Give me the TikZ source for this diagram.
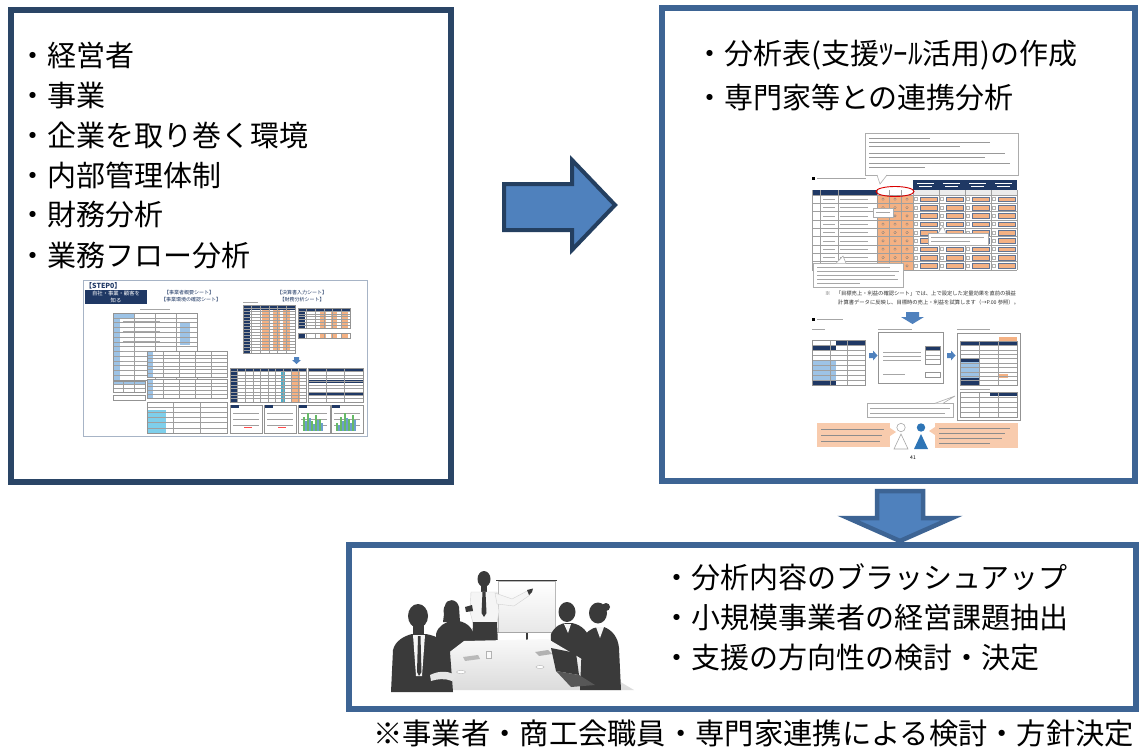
\documentclass[tikz,border=0pt]{standalone}
\usepackage{fontspec}
\setmainfont{Noto Sans CJK JP}
\usetikzlibrary{calc}

\definecolor{navyA}{HTML}{2A4566}
\definecolor{steelB}{HTML}{3D6494}
\definecolor{arrowfill}{HTML}{4F81BD}
\definecolor{arrowedge}{HTML}{243F60}
\definecolor{darknavy}{HTML}{1F3864}
\definecolor{sheetorange}{HTML}{F4B183}
\definecolor{paleorange}{HTML}{F8CBAD}
\definecolor{paleblue}{HTML}{9DC3E6}
\definecolor{tealcol}{HTML}{4BACC6}
\definecolor{silh}{HTML}{3A3A3A}
\definecolor{rulegray}{HTML}{A7B4C6}
\definecolor{iconblue}{HTML}{2E75B6}

% grid of a small spreadsheet: x0 y0 x1 y1 rows cols
\newcommand\sheetgrid[6]{%
  \foreach \k in {1,...,#5}{\draw[gridln] (#1,{#2+\k*(#4-#2)/#5}) -- (#3,{#2+\k*(#4-#2)/#5});}%
  \foreach \k in {1,...,#6}{\draw[gridln] ({#1+\k*(#3-#1)/#6},#2) -- ({#1+\k*(#3-#1)/#6},#4);}%
  \draw[gridbox] (#1,#2) rectangle (#3,#4);%
}

\begin{document}
\begin{tikzpicture}[x=1pt,y=-1pt,
  panelA/.style={draw=navyA, line width=6pt},
  panelB/.style={draw=steelB, line width=6pt},
  bigtxt/.style={font=\fontsize{29}{29}\selectfont, inner sep=0pt, anchor=west, text=black},
  tinyhead/.style={font=\fontsize{5}{5}\selectfont, inner sep=0pt, text=darknavy},
  gridln/.style={draw=gray!75, line width=0.35pt},
  gridbox/.style={draw=gray!85, line width=0.5pt},
  txtln/.style={draw=gray!70, line width=1pt},
  callout/.style={draw=gray!65, fill=white, line width=0.6pt},
  person/.style={fill=silh},
  shirt/.style={fill=gray!8},
  bluearrow/.style={fill=arrowfill}
]
\useasboundingbox (0,0) rectangle (1139,749);
\fill[white] (0,0) rectangle (1139,749);

% ---------- panels ----------
\draw[panelA] (11,10) rectangle (451,481.5);
\draw[panelB] (662,8) rectangle (1135,481);
\draw[panelB] (349,545) rectangle (1136,709);

% ---------- block arrows ----------
\filldraw[fill=arrowfill, draw=arrowedge, line width=4pt, line join=miter]
  (504,184) -- (572,184) -- (572,160) -- (615,205) -- (572,250) -- (572,230) -- (504,230) -- cycle;
\filldraw[fill=arrowfill, draw=steelB, line width=4.5pt, line join=miter]
  (877,491) -- (923,491) -- (923,518) -- (952,518) -- (900,541) -- (848,518) -- (877,518) -- cycle;

% ---------- texts ----------
\node[bigtxt] (a1) at (18,55)  {・経営者};
\node[bigtxt] (a2) at (18,96)  {・事業};
\node[bigtxt] (a3) at (18,135) {・企業を取り巻く環境};
\node[bigtxt] (a4) at (18,175) {・内部管理体制};
\node[bigtxt] (a5) at (18,215) {・財務分析};
\node[bigtxt] (a6) at (18,256) {・業務フロー分析};

\node[bigtxt] (b1) at (695,55) {・分析表(支援ﾂｰﾙ活用)の作成};
\node[bigtxt] (b2) at (695,97) {・専門家等との連携分析};

\node[bigtxt] (c1) at (662,577) {・分析内容のブラッシュアップ};
\node[bigtxt] (c2) at (662,617) {・小規模事業者の経営課題抽出};
\node[bigtxt] (c3) at (662,657) {・支援の方向性の検討・決定};

\node[bigtxt, font=\fontsize{29.3}{29.3}\selectfont] (note) at (373,733) {※事業者・商工会職員・専門家連携による検討・方針決定};

% ---------- STEP0 sheet thumbnail ----------
\draw[draw=rulegray, fill=white, line width=0.8pt] (83,280) rectangle (367,436);
\node[font=\bfseries\fontsize{7}{7}\selectfont, text=darknavy, anchor=west, inner sep=0pt] (stepzero) at (85,285.5) {【STEP0】};
\fill[darknavy] (85,290) rectangle (147,304);
\node[font=\fontsize{5.3}{6.2}\selectfont, text=white, align=center, inner sep=0pt] (knowself) at (116,297) {自社・事業・顧客を\\知る};
\node[tinyhead] (sheetA) at (189,292.5) {【事業者概要シート】};
\node[tinyhead] (sheetB) at (191,299.5) {【事業環境の確認シート】};
\node[tinyhead] (sheetC) at (302,292.5) {【決算書入力シート】};
\node[tinyhead] (sheetD) at (302,299.5) {【財務分析シート】};

% left group of sheets
\draw[txtln, line width=0.8pt] (140,309) -- (170,309);
\fill[white] (113,313) rectangle (197,380);
\fill[paleblue] (113,318) rectangle (120,380);
\fill[paleblue] (113,313) rectangle (135,318);
\fill[paleblue] (180,322) rectangle (190,345);
\sheetgrid{113}{313}{197}{380}{14}{4}
\foreach \ly in {321,331,341,351,361}{\draw[txtln, line width=0.5pt] (123,\ly) -- (160,\ly);}
\fill[white] (147,351) rectangle (227,377);
\fill[paleblue] (147,351) rectangle (153,377);
\sheetgrid{147}{351}{227}{377}{7}{5}
\fill[white] (147,379) rectangle (227,398);
\fill[paleblue] (147,379) rectangle (153,398);
\sheetgrid{147}{379}{227}{398}{5}{5}
\fill[white] (147,402) rectangle (227,433);
\fill[paleblue!80!cyan] (147,410) rectangle (166,433);
\sheetgrid{147}{402}{227}{433}{6}{3}
\fill[paleblue] (113,381) rectangle (145,384);
\sheetgrid{113}{381}{145}{392}{3}{3}
\sheetgrid{113}{395}{145}{400}{1}{1}

% right group of sheets
\draw[txtln, line width=0.8pt] (243,302) -- (258,302);
\fill[white] (243,305) rectangle (295,353);
\fill[darknavy] (243,305) rectangle (295,310);
\fill[darknavy] (243,310) rectangle (250,353);
\foreach \cx in {262,273,283}{\fill[sheetorange] (\cx,310) rectangle (\cx+7,350);}
\sheetgrid{243}{305}{295}{353}{16}{6}
\fill[white] (298,308) rectangle (350,328);
\fill[darknavy] (298,308) rectangle (350,312);
\fill[darknavy] (298,312) rectangle (305,328);
\foreach \cx in {320,331,342}{\fill[sheetorange] (\cx,312) rectangle (\cx+6,328);}
\sheetgrid{298}{308}{350}{328}{7}{6}
\fill[white] (298,333) rectangle (350,338);
\fill[darknavy] (298,333) rectangle (305,338);
\foreach \cx in {320,331,342}{\fill[sheetorange] (\cx,333) rectangle (\cx+6,338);}
\sheetgrid{298}{333}{350}{338}{1}{6}
\fill[bluearrow] (294,357) -- (299,357) -- (299,360) -- (301,360) -- (296.5,364) -- (292,360) -- (294,360) -- cycle;
\fill[white] (230,368) rectangle (306,402);
\fill[darknavy] (230,368) rectangle (306,371);
\fill[darknavy] (230,371) rectangle (237,402);
\fill[tealcol] (281,371) rectangle (285,402);
\fill[sheetorange] (292,371) rectangle (300,402);
\sheetgrid{230}{368}{306}{402}{10}{10}
\fill[white] (308,368) rectangle (363,402);
\foreach \yy in {368,380,392}{\fill[darknavy] (308,\yy) rectangle (363,\yy+3);}
\sheetgrid{308}{368}{363}{402}{10}{3}
\foreach \bx in {230,264,298,331}{
  \draw[gridbox, fill=white] (\bx,405) rectangle (\bx+32,433);
  \fill[darknavy] (\bx+1,405) rectangle (\bx+9,408);
  \foreach \ly in {413,419,425}{\draw[gridln] (\bx+3,\ly) -- (\bx+29,\ly);}
}
\foreach \bx/\bh in {303/14,307/18,311/10,315/16,319/12,336/8,340/14,344/18,348/12,352/16}{
  \fill[green!55!black!60] (\bx,431) rectangle (\bx+2,431-\bh);
  \fill[iconblue!70] (\bx+2,431) rectangle (\bx+3.5,431-\bh*0.7);
}
\fill[red!70] (244,427) rectangle (252,428);
\fill[red!70] (278,427) rectangle (286,428);

% ---------- analysis page thumbnail ----------
% top note
\draw[callout] (865,133) rectangle (1018,175);
\fill[white] (877,174) -- (887,174) -- (880,184) -- cycle;
\draw[gray!65, line width=0.6pt] (877,175) -- (880,184) -- (887,175);
\foreach \ly/\lx in {138/930,142/990,146/960,153/1005,157/985,163/1010,167/925}{\draw[txtln, draw=gray!80, line width=0.9pt] (869,\ly) -- (\lx,\ly);}
\fill[black] (812,176.5) rectangle (815,179.5);
\draw[txtln, line width=0.9pt] (817,178) -- (866,178);

% evaluation table
\foreach \gx in {913,939,965,991}{
  \fill[darknavy] (\gx,180) rectangle (\gx+25.5,190);
  \draw[white, line width=0.6pt] (\gx+4,183.5) -- (\gx+21,183.5);
  \draw[white, line width=0.6pt] (\gx+6,186.5) -- (\gx+19,186.5);
}
\fill[darknavy] (812,190) rectangle (877,195);
\fill[gray!15] (913,190) rectangle (1017,195);
\fill[white] (812,195) rectangle (1017,270);
\fill[sheetorange] (877,195) rectangle (913,270);
\foreach \r in {0,...,8}{
  \pgfmathsetmacro\yy{195+\r*8.33}
  \foreach \gx in {913,939,965,991}{
    \draw[gray!60, fill=white, line width=0.3pt] (\gx+1.5,\yy+2.5) rectangle (\gx+4.5,\yy+5.5);
    \draw[darknavy!70, fill=sheetorange, line width=0.35pt] (\gx+7,\yy+1.8) rectangle (\gx+24,\yy+6.5);
  }
  \foreach \cx in {883,895,907}{\draw[black!50, line width=0.3pt] (\cx,\yy+4.2) circle [radius=1.3];}
  \draw[txtln, line width=0.6pt] (840,\yy+4.2) -- (868,\yy+4.2);
  \draw[txtln, line width=0.6pt] (823,\yy+4.2) -- (835,\yy+4.2);
}
\foreach \r in {0,...,9}{\draw[gridln] (812,{195+\r*8.33}) -- (1017,{195+\r*8.33});}
\foreach \vx in {812,820,838,877,889,901,913,939,965,991,1017}{\draw[gridln] (\vx,190) -- (\vx,270);}
\draw[red!85!black, line width=0.9pt] (895,191.5) ellipse [x radius=19, y radius=5];
\draw[callout] (873,208) rectangle (893,217);
\draw[txtln, line width=0.6pt] (876,212.5) -- (890,212.5);
\draw[callout] (928,233) rectangle (988,245);
\draw[gray!65, fill=white, line width=0.6pt] (938,233.3) -- (943,226) -- (946,233.3);
\draw[txtln, line width=0.6pt] (931,237) -- (984,237);
\draw[txtln, line width=0.6pt] (931,241) -- (970,241);
\draw[callout] (813,263) rectangle (903,287);
\draw[gray!65, fill=white, line width=0.6pt] (836,263.3) -- (843,256) -- (846,263.3);
\foreach \ly/\lx in {267/890,271/899,275/895,279/898,283/860}{\draw[txtln, line width=0.7pt] (817,\ly) -- (\lx,\ly);}

% remark below the table
\node[font=\fontsize{5.3}{8.5}\selectfont, align=left, anchor=north west, inner sep=0pt, text=black!80] (remark) at (825,291)
  {※　「目標売上・利益の確認シート」では、上で設定した定量効果を直前の損益\\
   \hspace*{13pt}計算書データに反映し、目標時の売上・利益を試算します（→P.00 参照）。};

% target profit section
\fill[bluearrow] (906,312) -- (919,312) -- (919,317) -- (924,317) -- (912.5,324) -- (901,317) -- (906,317) -- cycle;
\fill[black] (812,317.5) rectangle (815,320.5);
\draw[txtln, line width=0.9pt] (817,319) -- (843,319);
\draw[txtln, line width=0.8pt] (812,329) -- (825,329);
\draw[txtln, line width=0.8pt] (878,329) -- (912,329);
\draw[txtln, line width=0.8pt] (957,329) -- (990,329);
% table 1
\fill[white] (812,340) rectangle (865,385);
\fill[darknavy] (836,340) rectangle (865,345);
\fill[darknavy] (812,345) rectangle (836,350);
\fill[paleblue] (812,360) rectangle (836,380);
\fill[darknavy] (812,380) rectangle (836,385);
\sheetgrid{812}{340}{865}{385}{9}{3}
\fill[bluearrow] (869,353) -- (873,353) -- (873,350.5) -- (877.5,355.5) -- (873,360.5) -- (873,358) -- (869,358) -- cycle;
% table 2
\draw[gridbox, fill=white] (878,332) rectangle (943,383);
\foreach \ly in {352,356,360}{\draw[txtln, line width=0.6pt] (883,\ly) -- (921,\ly);}
\draw[txtln, line width=0.6pt] (883,374) -- (905,374);
\fill[white] (925,346) rectangle (940,364);
\fill[darknavy] (925,346) rectangle (940,350);
\sheetgrid{925}{346}{940}{364}{4}{1}
\draw[gridbox, fill=white] (925,372) rectangle (940,377);
\fill[bluearrow] (947,353) -- (951,353) -- (951,350.5) -- (955.5,355.5) -- (951,360.5) -- (951,358) -- (947,358) -- cycle;
% table 3
\draw[gridbox, fill=white] (957,333) rectangle (1020,420);
\fill[white] (960,341) rectangle (1017,385);
\fill[sheetorange] (999,337) rectangle (1017,341);
\fill[darknavy] (960,341) rectangle (1017,345);
\fill[darknavy] (960,358) rectangle (980,362);
\fill[paleblue] (960,362) rectangle (980,378);
\fill[darknavy] (960,378) rectangle (980,385);
\fill[sheetorange] (999,374) rectangle (1008,378);
\sheetgrid{960}{341}{1017}{385}{10}{3}
\draw[txtln, line width=0.7pt] (960,389) -- (990,389);
\fill[white] (960,392) rectangle (1017,417);
\fill[darknavy] (990,392) rectangle (1017,396);
\sheetgrid{960}{392}{1017}{417}{5}{3}
% explanatory note
\draw[callout] (867,403) rectangle (953,417);
\draw[gray!65, fill=white, line width=0.6pt] (935,403.3) -- (955,396) -- (943,403.3);
\draw[txtln, line width=0.7pt] (870,408) -- (950,408);
\draw[txtln, line width=0.7pt] (870,413) -- (945,413);
% speech bubbles and figures
\fill[paleorange] (817,423) rectangle (890,447);
\fill[paleorange] (890,428) -- (896,432) -- (890,436) -- cycle;
\foreach \ly/\lx in {429/884,435/882,441/880}{\draw[draw=black!45, line width=0.7pt] (821,\ly) -- (\lx,\ly);}
\fill[paleorange] (935,423) rectangle (1018,448);
\fill[paleorange] (935,427) -- (929,431) -- (935,435) -- cycle;
\foreach \ly/\lx in {428/1010,433/1005,438/1002,443/990}{\draw[draw=black!45, line width=0.7pt] (939,\ly) -- (\lx,\ly);}
\draw[gray!70, fill=white, line width=0.6pt] (901,427.5) circle [radius=4.2];
\draw[gray!70, fill=white, line width=0.6pt] (901,434) -- (908,449) -- (894,449) -- cycle;
\fill[iconblue] (921,427.5) circle [radius=4.2];
\fill[iconblue] (921,434) -- (928,449) -- (914,449) -- cycle;
\node[font=\fontsize{5}{5}\selectfont, inner sep=0pt] (pageno) at (913,458) {41};

% ---------- meeting scene ----------
% screen on its stand
\shade[top color=white, bottom color=gray!18] (498,581) rectangle (555,632);
\draw[gray!55, line width=0.5pt] (498,581) rectangle (555,632);
\draw[silh, line width=1.6pt] (496,580.5) -- (557,580.5);
\draw[gray!70, line width=1.3pt] (497,632.8) -- (556,632.8);
\draw[silh, line width=1.8pt] (527,633) -- (527,644);
% presenter
\fill[person] (484,579) ellipse [x radius=6.5, y radius=8];
\fill[person] (481,585) rectangle (487,593);
\fill[shirt, draw=gray!35, line width=0.4pt] (471,592) -- (497,592) -- (499,612) -- (497,623) -- (473,623) -- (470,612) -- cycle;
\fill[person] (482.5,592) -- (485.5,592) -- (486.5,613) -- (484,617) -- (481.5,613) -- cycle;
\fill[person] (473,622) -- (497,622) -- (498,646) -- (472,646) -- cycle;
\fill[shirt, draw=gray!35, line width=0.4pt] (495,593) -- (512,599) -- (527,591) -- (530,595) -- (514,606) -- (497,604) -- cycle;
\fill[person] (527,590) -- (533,588.5) -- (532,592) -- (529,595) -- cycle;
\fill[person] (465,607) -- (472,605) -- (473,611) -- (466,612) -- cycle;
% people seated at the far side
\fill[person] (451,611) ellipse [x radius=7.5, y radius=9];
\fill[person] (445,606) .. controls (446,598) and (457,598) .. (459,607) -- (460,622) -- (443,622) -- cycle;
\fill[person] (436,664) -- (436,634) .. controls (438,626) and (445,622) .. (452,621) -- (459,621) .. controls (468,623) and (474,629) .. (475,640) -- (477,664) -- cycle;
\fill[person] (567,612) ellipse [x radius=8.5, y radius=10];
\fill[person] (550,664) -- (551,634) .. controls (555,626) and (561,623) .. (567,623) -- (572,623) .. controls (582,625) and (589,632) .. (590,642) -- (591,664) -- cycle;
\fill[shirt] (564,624) -- (571,624) -- (568,633) -- cycle;
% table
\shade[top color=gray!5, bottom color=gray!28] (464,641) -- (548,639) -- (634,690) -- (400,690) -- cycle;
\draw[gray!60, fill=white, line width=0.4pt] (461,672) ellipse [x radius=4.5, y radius=1.6];
\draw[gray!60, fill=white, line width=0.4pt] (540,667) ellipse [x radius=4, y radius=1.5];
\draw[gray!60, fill=gray!5, line width=0.4pt] (486,651) rectangle (491,658);
\fill[gray!55] (463,657) -- (478,655) -- (480,659) -- (465,661) -- cycle;
\fill[gray!60] (535,652) -- (548,650) -- (552,654) -- (539,656) -- cycle;
% people seated in front
\fill[person] (418,616) ellipse [x radius=10, y radius=12];
\fill[person] (413,624) rectangle (424,636);
\fill[person] (391,692) -- (393,650) .. controls (395,641) and (404,636) .. (412,634) -- (426,634) .. controls (437,636) and (447,641) .. (450,652) -- (453,692) -- cycle;
\fill[shirt] (413,635) -- (425,635) -- (422,676) -- (416,676) -- cycle;
\fill[person] (418,636) -- (420.5,636) -- (421.5,672) -- (419,676) -- (417,672) -- cycle;
\fill[gray!20] (430,675) .. controls (440,670) and (450,671) .. (456,676) -- (452,681) .. controls (445,678) and (437,679) .. (431,681) -- cycle;
\fill[person] (598,613) ellipse [x radius=9, y radius=10.5];
\fill[person] (606,607) circle [radius=4];
\fill[person] (580,690) -- (582,642) .. controls (585,632) and (591,628) .. (598,627) -- (604,627) .. controls (612,630) and (618,637) .. (619,648) -- (621,690) -- cycle;
\fill[shirt] (596,627) -- (604,627) -- (600,638) -- cycle;
% laptop
\fill[person] (551,648) -- (576,653) -- (579,675) -- (556,671) -- cycle;
\fill[silh!85!white] (556,671) -- (579,675) -- (595,685) -- (571,687) -- cycle;
\end{tikzpicture}
\end{document}
